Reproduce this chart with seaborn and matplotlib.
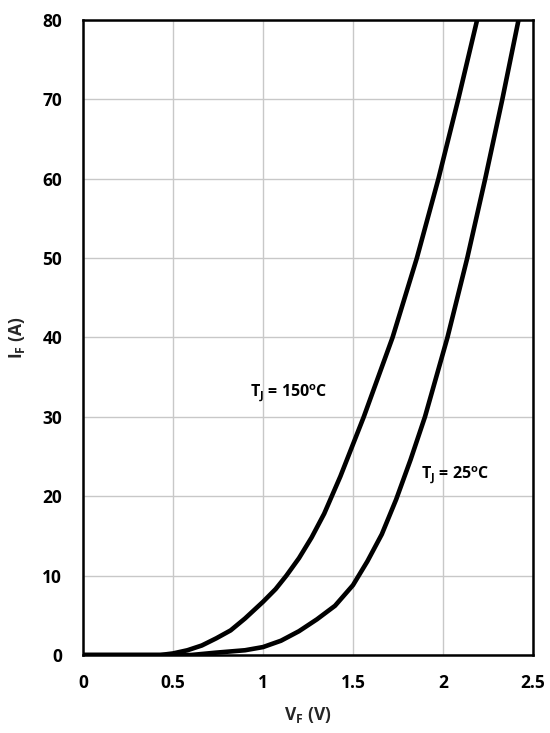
import matplotlib
matplotlib.use("Agg")
import matplotlib.pyplot as plt
import seaborn as sns
import pandas as pd

# Forward voltage (V) and forward current (A)
vf_150 = [0.0, 0.43, 0.5, 0.58, 0.66, 0.74, 0.82, 0.9, 1.0, 1.07, 1.13, 1.2,
          1.27, 1.34, 1.43, 1.56, 1.72, 1.855, 1.975, 2.085, 2.19]
if_150 = [0.0, 0.0, 0.2, 0.6, 1.2, 2.1, 3.1, 4.6, 6.7, 8.3, 10.0, 12.2,
          14.8, 17.8, 22.5, 30.0, 40.0, 50.0, 60.0, 70.0, 80.0]
vf_25 = [0.0, 0.6, 0.74, 0.9, 1.0, 1.1, 1.2, 1.3, 1.4, 1.5, 1.58, 1.66,
         1.74, 1.82, 1.9, 2.025, 2.135, 2.235, 2.33, 2.42]
if_25 = [0.0, 0.0, 0.3, 0.6, 1.0, 1.8, 3.0, 4.5, 6.2, 8.8, 11.8, 15.2,
         19.6, 24.6, 30.0, 40.0, 50.0, 60.0, 70.0, 80.0]
x_ticks = [0, 0.5, 1, 1.5, 2, 2.5]
x_tick_labels = ["0", "0.5", "1", "1.5", "2", "2.5"]
y_ticks = [0, 10, 20, 30, 40, 50, 60, 70, 80]

df = pd.concat([
    pd.DataFrame({"VF": vf_150, "IF": if_150, "Tj": "150"}),
    pd.DataFrame({"VF": vf_25, "IF": if_25, "Tj": "25"}),
])

sns.set_theme(style="whitegrid")
plt.rcParams["font.family"] = ["Open Sans", "DejaVu Sans"]
plt.rcParams["mathtext.fontset"] = "custom"
plt.rcParams["mathtext.rm"] = "Open Sans"
plt.rcParams["mathtext.bf"] = "Open Sans:bold"

fig = plt.figure(figsize=(5.5, 7.33), dpi=100)
ax = fig.add_axes([0.151, 0.1064, 0.818, 0.8666])

sns.lineplot(data=df, x="VF", y="IF", units="Tj", estimator=None,
             color="black", linewidth=3.3, ax=ax, sort=False)

ax.set_xlim(0, 2.5)
ax.set_ylim(0, 80)
ax.set_xticks(x_ticks)
ax.set_xticklabels(x_tick_labels)
ax.set_yticks(y_ticks)
ax.grid(True, color="#c8c8c8", linewidth=1.0)
ax.set_facecolor("white")
for s in ax.spines.values():
    s.set_color("black")
    s.set_linewidth(1.8)
    s.set_visible(True)
ax.tick_params(axis="x", length=0, pad=14, labelsize=12.5, colors="black")
ax.tick_params(axis="y", length=0, pad=15, labelsize=12.5, colors="black")
for lab in ax.get_xticklabels() + ax.get_yticklabels():
    lab.set_fontweight("bold")

ax.set_xlabel(r"$\mathbf{V_F}$ (V)", fontsize=12.5, fontweight="bold", labelpad=9)
ax.set_ylabel(r"$\mathbf{I_F}$ (A)", fontsize=12.5, fontweight="bold", labelpad=11)

ax.text(0.93, 33, r"$\mathbf{T_J}$ = 150$^{\mathbf{o}}$C", fontsize=11.5,
        fontweight="bold", ha="left", va="center", color="black")
ax.text(1.88, 22.6, r"$\mathbf{T_J}$ = 25$^{\mathbf{o}}$C", fontsize=11.5,
        fontweight="bold", ha="left", va="center", color="black")

fig.savefig("out.png", dpi=100, facecolor="white")
